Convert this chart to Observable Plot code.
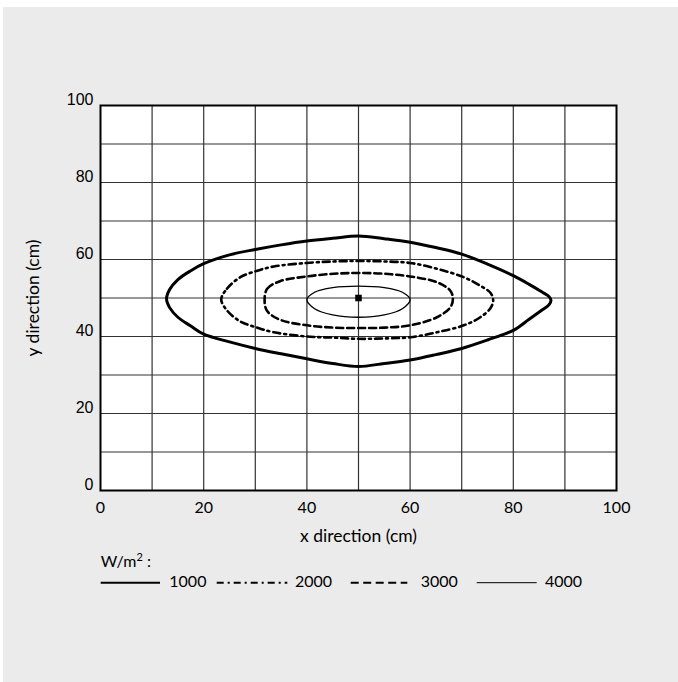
<!DOCTYPE html>
<html><head><meta charset="utf-8">
<script src="https://cdn.jsdelivr.net/npm/d3@7"></script>
<script src="https://cdn.jsdelivr.net/npm/@observablehq/plot@0.6"></script>
<style>
body{margin:0;background:#fff;}
#panel{position:absolute;left:3px;top:7px;width:675px;height:675px;background:#ebebeb;overflow:hidden;}
#chart{position:absolute;left:0;top:0;}
#legend{position:absolute;left:0;top:540px;}
g[aria-label="y-axis tick label"] text{font-family:"Liberation Sans",Arial,sans-serif;}
g[aria-label="x-axis label"] text, g[aria-label="y-axis label"] text{font-size:17.5px;}
</style></head><body>
<div id="panel"><div id="chart"></div><div id="legend"></div></div>
<script>
// ---- data ----
const levels = [1000, 2000, 3000, 4000];
const xTicks = [0, 20, 40, 60, 80, 100];
const yTicks = [0, 20, 40, 60, 80, 100];
const gridValues = [10, 20, 30, 40, 50, 60, 70, 80, 90];
const source = [{x: 50, y: 50}];

// contour points (closed curves)
const c1000x = [12.8,13.4,15,17.5,20,25,30,35,40,45,50,55,60,65,70,75,80,83,85.5,86.9,87.3,86.9,85.5,83,80,75,70,65,60,55,50,45,40,35,30,25,20,17.5,15,13.4];
const c1000y = [49.8,52.2,54.8,57.1,58.9,61.2,62.6,63.8,64.8,65.5,66.1,65.4,64.5,63.1,61.4,58.8,55.8,53.6,51.6,50.4,49.4,48.2,46.8,44.4,41.6,39.1,36.9,35.3,33.9,33.0,32.2,33.0,34.2,35.5,36.9,38.6,40.6,42.7,45.0,47.5];
const c2000x = [23.4,24.5,27.1,30.4,33.6,40,45.2,50,55,60,65.2,70.4,73.6,75.6,76.1,75.6,73.6,70.4,65.2,60,55,50,45.2,40,33.6,30.4,27.1,24.5];
const c2000y = [49.6,52.4,55.4,57.1,58.2,59.1,59.5,59.6,59.5,59.1,57.6,55.4,53.2,51.3,49.4,47.4,45.0,42.9,41.1,39.8,39.5,39.4,39.7,40.0,41.1,42.3,43.9,46.8];
const c3000x = [31.8,32.3,34.9,40,45.2,50,55,60,65.2,67.8,68.3,67.8,65.2,60,55,50,45.2,40,34.9,32.3];
const c3000y = [49.4,52.4,54.4,55.6,56.3,56.5,56.3,55.6,54.1,51.9,49.8,47.6,45.0,42.9,42.3,42.2,42.3,42.9,44.3,46.6];
const c4000x = [40,41.5,45,50,55,58.5,60,58.5,55,50,45,41.5];
const c4000y = [49.6,51.5,52.7,53.1,52.7,51.5,49.6,47.2,45.6,45.0,45.6,47.2];

const contours = [
  {level: 1000, xs: c1000x, ys: c1000y, width: 3, dash: null},
  {level: 2000, xs: c2000x, ys: c2000y, width: 2.6, dash: "7,4,2,4"},
  {level: 3000, xs: c3000x, ys: c3000y, width: 2.6, dash: "7,4"},
  {level: 4000, xs: c4000x, ys: c4000y, width: 1.3, dash: null}
];
const rowsOf = c => c.xs.map((x, i) => ({level: c.level, x, y: c.ys[i]}));

const plot = Plot.plot({
  width: 675, height: 545,
  marginLeft: 97, marginRight: 62, marginTop: 98, marginBottom: 62,
  style: {background: "transparent", fontFamily: "Lato, 'Open Sans', sans-serif", fontSize: "16px", color: "#000"},
  x: {domain: [0, 100]},
  y: {domain: [0, 100]},
  marks: [
    Plot.frame({fill: "white", stroke: null}),
    Plot.gridX(gridValues, {stroke: "#333", strokeOpacity: 1, strokeWidth: 1.2}),
    Plot.gridY(gridValues, {stroke: "#333", strokeOpacity: 1, strokeWidth: 1.2}),
    Plot.axisX(xTicks, {tickSize: 0, tickPadding: 11, label: "x direction (cm)", labelAnchor: "center", labelArrow: "none", labelOffset: 51, fill: "black"}),
    Plot.axisY(yTicks, {tickSize: 0, tickPadding: 7, dy: -6, label: "y direction (cm)", labelAnchor: "center", labelArrow: "none", labelOffset: 74, fill: "black"}),
    ...contours.map(c => Plot.line(rowsOf(c), {x: "x", y: "y", curve: "catmull-rom-closed", stroke: "black", strokeWidth: c.width, strokeDasharray: c.dash})),
    Plot.frame({stroke: "black", strokeWidth: 2}),
    Plot.dot(source, {x: "x", y: "y", symbol: "square", r: 3.7, fill: "black"})
  ]
});
document.getElementById("chart").appendChild(plot);

// ---- legend ----
const legendItems = [
  {level: 1000, x1: 97.7, x2: 157, tx: 166.3, width: 2, dash: null},
  {level: 2000, x1: 213.7, x2: 284.3, tx: 292, width: 2, dash: "7,4,2,4"},
  {level: 3000, x1: 347.7, x2: 404.3, tx: 417.7, width: 2, dash: "8,4.5"},
  {level: 4000, x1: 473.7, x2: 533.7, tx: 542, width: 1, dash: null}
];
const svg = d3.select("#legend").append("svg")
  .attr("width", 675).attr("height", 60)
  .style("font-family", "Lato, 'Open Sans', sans-serif").style("font-size", "16px");
const head = svg.append("text").attr("x", 97.7).attr("y", 20);
head.append("tspan").text("W/m");
head.append("tspan").attr("dy", -6).style("font-size", "11px").text("2");
head.append("tspan").attr("dy", 6).text(" :");
const it = svg.selectAll("g.item").data(legendItems).join("g");
it.append("line").attr("x1", d => d.x1).attr("x2", d => d.x2).attr("y1", 35.7).attr("y2", 35.7)
  .attr("stroke", "black").attr("stroke-width", d => d.width).attr("stroke-dasharray", d => d.dash);
it.append("text").attr("x", d => d.tx).attr("y", 40).text(d => d.level);
</script>
</body></html>
